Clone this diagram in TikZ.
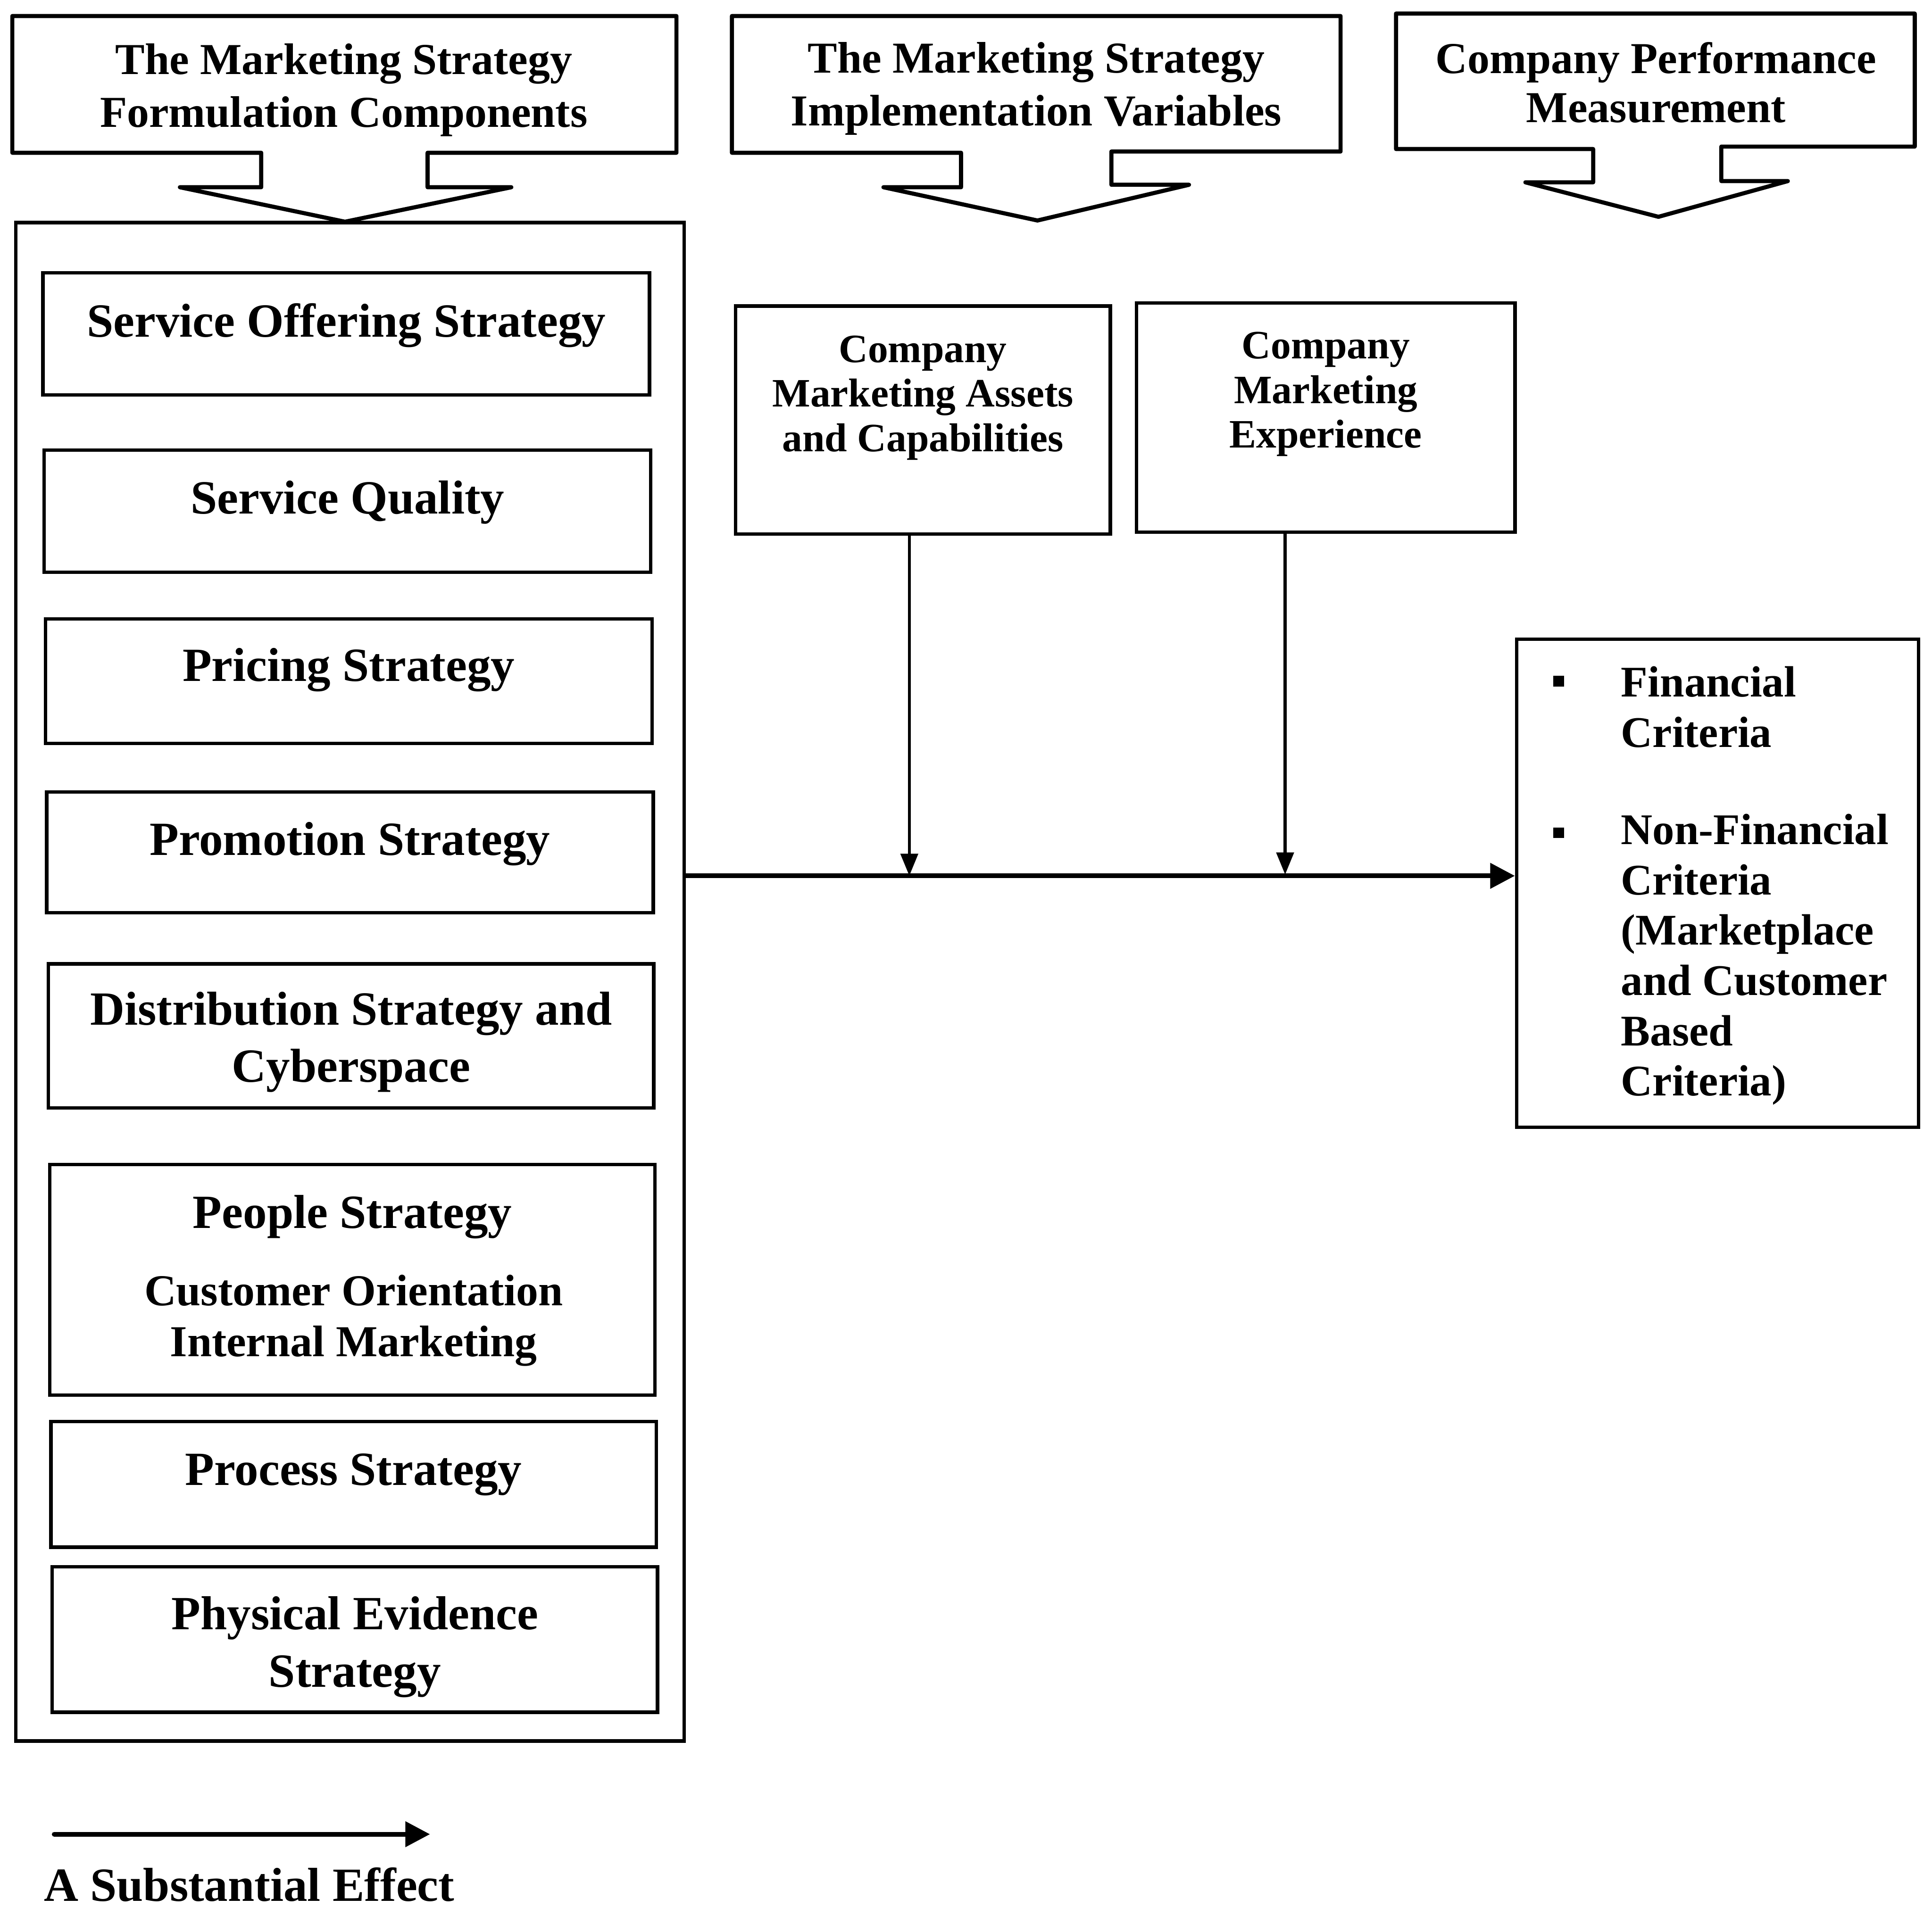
\documentclass[tikz,border=0pt]{standalone}
\usepackage{fontspec}
\setmainfont{Liberation Serif}
\usetikzlibrary{arrows.meta}

\begin{document}
\begin{tikzpicture}[x=0.01cm,y=-0.01cm,
  every node/.style={font=\bfseries},
  outline/.style={draw=black, line width=0.95pt, line join=round},
  box/.style={draw=black, line width=0.8pt, inner sep=0pt},
  txt/.style={inner sep=0pt, align=center, font=\bfseries\fontsize{11}{13}\selectfont},
  hdrtxt/.style={inner sep=0pt, align=center, font=\bfseries\fontsize{10.2}{12.2}\selectfont},
  smalltxt/.style={inner sep=0pt, align=center, font=\bfseries\fontsize{9.3}{10.3}\selectfont},
  crittxt/.style={inner sep=0pt, align=left, font=\bfseries\fontsize{10.1}{11.6}\selectfont},
  bullet/.style={fill=black, inner sep=0pt, minimum size=0.085cm},
  conn/.style={line width=0.7pt, -{Triangle[length=0.18cm, width=0.14cm]}},
  mainconn/.style={line width=1.1pt, -{Triangle[length=0.2cm, width=0.2cm]}}
]
\useasboundingbox (0,0) rectangle (1568,1548);

% ---- header boxes with their downward block arrows ----
\draw[outline] (10,13) -- (549,13) -- (549,124) -- (347,124) -- (347,152) -- (415,152)
  -- (280,180) -- (146,152) -- (212,152) -- (212,124) -- (10,124) -- cycle;
\node[hdrtxt] (h1) at (279,73) {The Marketing Strategy\\Formulation Components};

\draw[outline] (594,13) -- (1088,13) -- (1088,123) -- (902,123) -- (902,150) -- (965,150)
  -- (842,179) -- (717,152) -- (780,152) -- (780,124) -- (594,124) -- cycle;
\node[hdrtxt] (h2) at (841,72) {The Marketing Strategy\\Implementation Variables};

\draw[outline] (1133,11) -- (1554,11) -- (1554,119) -- (1397,119) -- (1397,147) -- (1451,147)
  -- (1346,176) -- (1238,148) -- (1293,148) -- (1293,121) -- (1133,121) -- cycle;
\node[hdrtxt, font=\bfseries\fontsize{10.2}{11.4}\selectfont] (h3) at (1344,67) {Company Performance\\Measurement};

% ---- formulation components ----
\node[box, minimum width=5.42cm, minimum height=12.32cm] (big) at (284,797) {};

\node[box, minimum width=4.92cm, minimum height=0.99cm] (b1) at (281,271) {};
\node[txt] (t1) at (281,264) {Service Offering Strategy};

\node[box, minimum width=4.92cm, minimum height=0.99cm] (b2) at (282,415) {};
\node[txt] (t2) at (282,408) {Service Quality};

\node[box, minimum width=4.92cm, minimum height=1.01cm] (b3) at (283,553) {};
\node[txt] (t3) at (283,544) {Pricing Strategy};

\node[box, minimum width=4.92cm, minimum height=0.98cm] (b4) at (284,692) {};
\node[txt] (t4) at (284,685) {Promotion Strategy};

\node[box, minimum width=4.91cm, minimum height=1.17cm] (b5) at (285,841) {};
\node[txt, font=\bfseries\fontsize{11}{13.2}\selectfont] (t5) at (285,846) {Distribution Strategy and\\Cyberspace};

\node[box, minimum width=4.91cm, minimum height=1.87cm] (b6) at (286,1039) {};
\node[txt] (t6) at (286,988) {People Strategy};
\node[txt, font=\bfseries\fontsize{10.2}{11.7}\selectfont] (t6b) at (287,1072) {Customer Orientation\\Internal Marketing};

\node[box, minimum width=4.91cm, minimum height=1.02cm] (b7) at (287,1205) {};
\node[txt] (t7) at (287,1197) {Process Strategy};

\node[box, minimum width=4.91cm, minimum height=1.18cm] (b8) at (288,1331) {};
\node[txt, font=\bfseries\fontsize{11}{13.2}\selectfont] (t8) at (288,1337) {Physical Evidence\\Strategy};

% ---- implementation variables ----
\node[box, minimum width=3.04cm, minimum height=1.85cm] (ma) at (749,341) {};
\node[smalltxt] (mat) at (749,323) {Company\\Marketing Assets\\and Capabilities};

\node[box, minimum width=3.07cm, minimum height=1.86cm] (me) at (1076,339) {};
\node[smalltxt] (met) at (1076,320) {Company\\Marketing\\Experience};

% ---- performance measurement ----
\node[box, minimum width=3.26cm, minimum height=3.96cm] (crit) at (1394,717) {};
\node[bullet] (bu1) at (1265,553) {};
\node[bullet] (bu2) at (1265,676) {};
\node[crittxt, anchor=west] (c1) at (1315,574) {Financial\\Criteria};
\node[crittxt, anchor=west] (c2) at (1315,779) {Non-Financial\\Criteria\\(Marketplace\\and Customer\\Based\\Criteria)};

% ---- effects ----
\coordinate (j1) at (738,711);
\coordinate (j2) at (1043,710);
\draw[conn] (ma.south -| j1) -- (j1);
\draw[conn] (me.south -| j2) -- (j2);
\draw[mainconn] (big.east |- j1) -- (crit.west |- j1);

% ---- legend ----
\coordinate (l1) at (44,1489);
\coordinate (l2) at (349,1489);
\draw[mainconn, line cap=round] (l1) -- (l2);
\node[txt, anchor=west] (leg) at (35,1530) {A Substantial Effect};

\end{tikzpicture}
\end{document}
